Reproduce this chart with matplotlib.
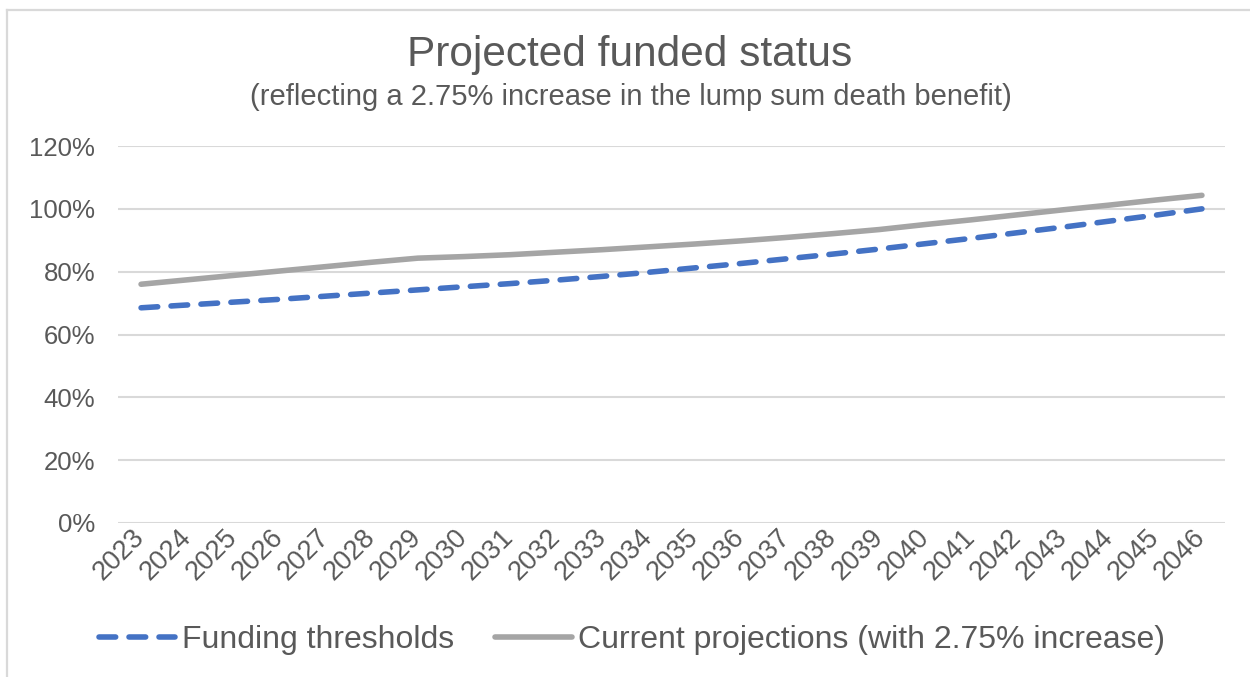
import matplotlib
matplotlib.use("Agg")
import matplotlib.pyplot as plt
import matplotlib.transforms as mtransforms
from matplotlib.lines import Line2D
from matplotlib.ticker import FuncFormatter

years = [str(y) for y in range(2023, 2047)]
funding_thresholds = [68.5, 69.4, 70.3, 71.2, 72.2, 73.2, 74.2, 75.2, 76.2, 77.3,
                      78.5, 79.8, 81.2, 82.6, 84.1, 85.6, 87.2, 88.9, 90.6, 92.4,
                      94.2, 96.1, 98.0, 100.0]
current_projections = [76.0, 77.4, 78.8, 80.2, 81.6, 83.0, 84.3, 84.8, 85.4, 86.2,
                       87.0, 87.9, 88.8, 89.8, 90.9, 92.1, 93.4, 95.0, 96.5, 98.1,
                       99.7, 101.2, 102.8, 104.3]
yticks = [0, 20, 40, 60, 80, 100, 120]
series_names = ["Funding thresholds", "Current projections (with 2.75% increase)"]
title = "Projected funded status"
subtitle = "(reflecting a 2.75% increase in the lump sum death benefit)"

plt.rcParams['font.family'] = ['Liberation Sans', 'DejaVu Sans']
text_color = "#595959"
blue = "#4472C4"
gray = "#A5A5A5"
grid_color = "#D9D9D9"
dash = (0, (3.0, 2.4))
lw = 4.0

W, H = 1250, 677
fig = plt.figure(figsize=(W / 100, H / 100), dpi=100)
fig.patch.set_facecolor("white")

left, right, top, bottom = 118, 1225, 146, 523
ax = fig.add_axes([left / W, 1 - bottom / H, (right - left) / W, (bottom - top) / H])

x = list(range(len(years)))
ax.plot(x, funding_thresholds, color=blue, lw=lw, linestyle=dash,
        dash_capstyle='round', solid_capstyle='round', label=series_names[0], zorder=3)
ax.plot(x, current_projections, color=gray, lw=lw, solid_capstyle='round',
        label=series_names[1], zorder=3)

ax.set_xlim(-0.5, len(years) - 0.5)
ax.set_ylim(0, 120)
ax.set_yticks(yticks)
ax.yaxis.set_major_formatter(FuncFormatter(lambda v, p: f"{int(v)}%"))
ax.set_xticks(x)
ax.set_xticklabels(years, rotation=45, ha='right', va='top', rotation_mode='default')
ax.tick_params(axis='x', length=0, pad=1, labelsize=19.5, colors=text_color)
ax.tick_params(axis='y', length=0, pad=16.5, labelsize=18.5, colors=text_color)
offset = mtransforms.ScaledTranslation(9 / 100, 0, fig.dpi_scale_trans)
for lab in ax.get_xticklabels():
    lab.set_transform(lab.get_transform() + offset)
ax.grid(axis='y', color=grid_color, lw=1.5, zorder=0)
for s in ax.spines.values():
    s.set_visible(False)

fig.text(630 / W, 1 - 55 / H, title, ha='center', va='center', fontsize=30.5, color=text_color)
fig.text(631 / W, 1 - 97 / H, subtitle, ha='center', va='center', fontsize=21, color=text_color)

handles = [Line2D([], [], color=blue, lw=lw, linestyle=dash, dash_capstyle='round'),
           Line2D([], [], color=gray, lw=lw, solid_capstyle='round')]
leg = fig.legend(handles, series_names, loc='center', bbox_to_anchor=(632 / W, 1 - 640 / H),
                 ncol=2, frameon=False, fontsize=23, handlelength=2.4, handletextpad=0.2,
                 columnspacing=1.3)
for t in leg.get_texts():
    t.set_color(text_color)

# chart border
fig.add_artist(Line2D([6.5 / W, 1], [1 - 9.5 / H, 1 - 9.5 / H], color=grid_color, lw=1.6,
                      transform=fig.transFigure))
fig.add_artist(Line2D([6.5 / W, 6.5 / W], [0, 1 - 9.5 / H], color=grid_color, lw=1.6,
                      transform=fig.transFigure))

fig.savefig("out.png", dpi=100, facecolor="white")
